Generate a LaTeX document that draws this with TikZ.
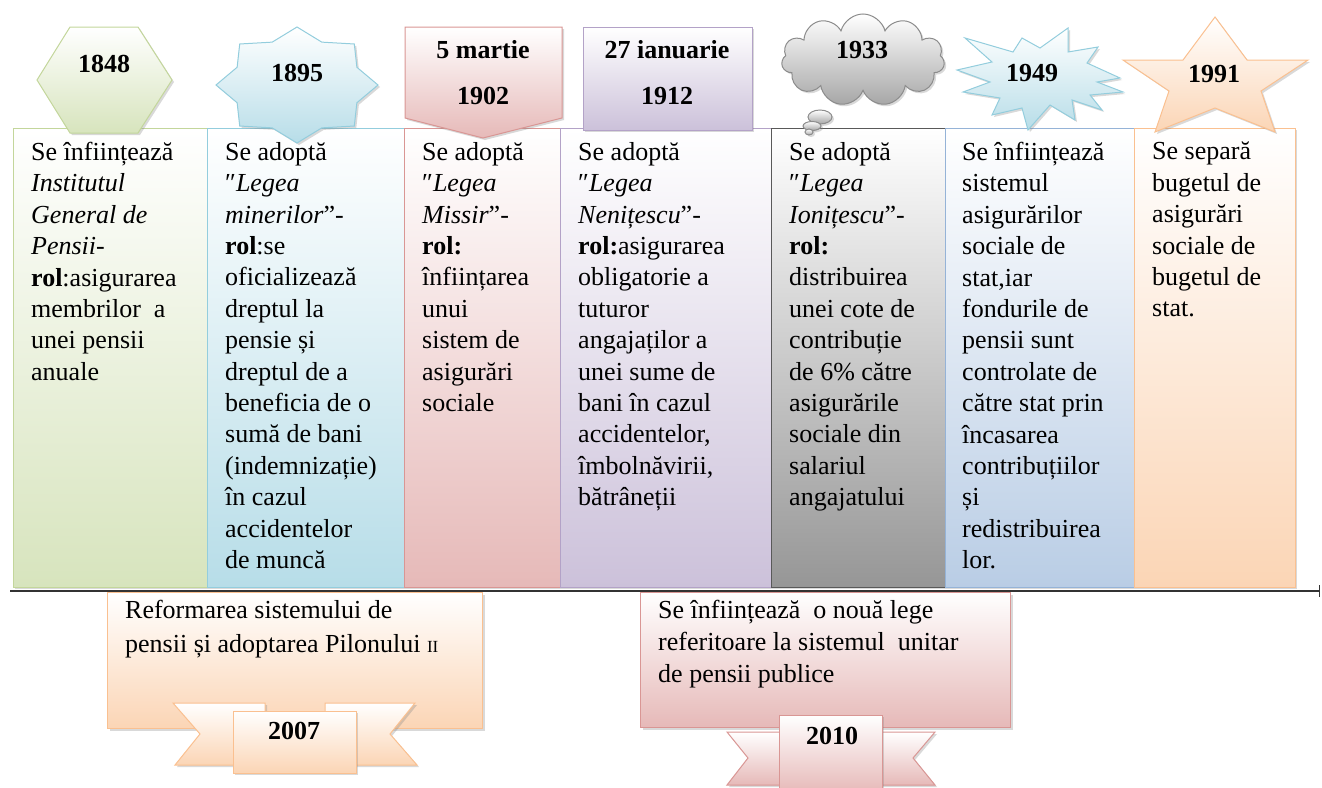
\documentclass[tikz,border=0pt]{standalone}
\usepackage{fontspec}
\setmainfont{Liberation Serif}
\usetikzlibrary{shapes.symbols,shadows,arrows.meta}

\definecolor{grnline}{HTML}{C3D69B}\definecolor{grnfill}{HTML}{D7E4BD}
\definecolor{aqualine}{HTML}{93CDDD}\definecolor{aquafill}{HTML}{B7DDE8}
\definecolor{redline}{HTML}{D99694}\definecolor{redfill}{HTML}{E6B9B8}
\definecolor{purline}{HTML}{B3A2C7}\definecolor{purfill}{HTML}{CCC1DA}
\definecolor{grayline}{HTML}{595959}\definecolor{grayfill}{HTML}{969696}
\definecolor{cldline}{HTML}{8C8C8C}\definecolor{cldfill}{HTML}{A6A6A6}
\definecolor{bluline}{HTML}{95B3D7}\definecolor{blufill}{HTML}{B9CDE5}
\definecolor{orline}{HTML}{FAC090}\definecolor{orfill}{HTML}{FBD5B5}

\tikzset{
  colbox/.style={draw=#1line, line width=0.8pt, top color=white, bottom color=#1fill,
    minimum height=459pt, anchor=north west, inner sep=0pt},
  badge/.style={draw=#1line, line width=1pt, top color=white, bottom color=#1fill},
  soft/.style={drop shadow={shadow xshift=2pt, shadow yshift=-2pt, opacity=0.3}},
  coltext/.style={anchor=north west, align=left, inner sep=0pt, font=\fontsize{26}{31.4}\selectfont,
    execute at begin node=\rule{0pt}{20pt}},
  yeartext/.style={inner sep=0pt, font=\bfseries\fontsize{26}{30}\selectfont},
}

\begin{document}
\begin{tikzpicture}[x=1pt,y=-1pt]
    \useasboundingbox (0,0) rectangle (1322,787);
    \clip (0,0) rectangle (1322,787);

    \coordinate (axL) at (10,591);
    \coordinate (axR) at (1320,591);
    \draw[line width=1.2pt, black!80, -{Bar[width=12pt]}] (axL) -- (axR);

    \node[colbox=grn, soft, minimum width=194pt] (c1848) at (13,128) {};
    \node[colbox=aqua, soft, minimum width=197pt] (c1895) at (207,128) {};
    \node[colbox=red, soft, minimum width=156pt] (c1902) at (404,128) {};
    \node[colbox=pur, soft, minimum width=211pt] (c1912) at (560,128) {};
    \node[colbox=gray, soft, minimum width=174pt] (c1933) at (771,128) {};
    \node[colbox=blu, soft, minimum width=189pt] (c1949) at (945,128) {};
    \node[colbox=or, soft, minimum width=161pt] (c1991) at (1134,128) {};

    \node[coltext] (t1848) at ([shift={(18pt,-14pt)}]c1848.north west)
      {Se înființează\\ \textit{Institutul}\\ \textit{General de}\\ \textit{Pensii-}\\
       \textbf{rol}:asigurarea\\ membrilor\ \ a\\ unei pensii\\ anuale};
    \node[coltext] (t1895) at ([shift={(18pt,-14pt)}]c1895.north west)
      {Se adoptă\\ ″\textit{Legea}\\ \textit{minerilor}”-\\ \textbf{rol}:se\\ oficializează\\
       dreptul la\\ pensie și\\ dreptul de a\\ beneficia de o\\ sumă de bani\\
       (indemnizație)\\ în cazul\\ accidentelor\\ de muncă};
    \node[coltext] (t1902) at ([shift={(18pt,-14pt)}]c1902.north west)
      {Se adoptă\\ ″\textit{Legea}\\ \textit{Missir}”-\\ \textbf{rol:}\\ înființarea\\
       unui\\ sistem de\\ asigurări\\ sociale};
    \node[coltext] (t1912) at ([shift={(18pt,-14pt)}]c1912.north west)
      {Se adoptă\\ ″\textit{Legea}\\ \textit{Nenițescu}”-\\ \textbf{rol:}asigurarea\\
       obligatorie a\\ tuturor\\ angajaților a\\ unei sume de\\ bani în cazul\\
       accidentelor,\\ îmbolnăvirii,\\ bătrâneții};
    \node[coltext] (t1933) at ([shift={(18pt,-14pt)}]c1933.north west)
      {Se adoptă\\ ″\textit{Legea}\\ \textit{Ionițescu}”-\\ \textbf{rol:}\\ distribuirea\\
       unei cote de\\ contribuție\\ de 6\% către\\ asigurările\\ sociale din\\
       salariul\\ angajatului};
    \node[coltext] (t1949) at ([shift={(17pt,-14pt)}]c1949.north west)
      {Se înființează\\ sistemul\\ asigurărilor\\ sociale de\\ stat,iar\\ fondurile de\\
       pensii sunt\\ controlate de\\ către stat prin\\ încasarea\\ contribuțiilor\\ și\\
       redistribuirea\\ lor.};
    \node[coltext] (t1991) at ([shift={(18pt,-14pt)}]c1991.north west)
      {Se separă\\ bugetul de\\ asigurări\\ sociale de\\ bugetul de\\ stat.};

    \draw[badge=grn, soft] (37,80) -- (70,27) -- (138,27) -- (172,80) -- (138,133) -- (70,133) -- cycle;
    \draw[badge=aqua, soft] plot[samples at={0,...,15}, variable=\k]
      ({297+81*(1-0.2*mod(\k,2))*cos(\k*22.5)}, {85-58*(1-0.2*mod(\k,2))*sin(\k*22.5)}) -- cycle;
    \draw[badge=red, soft] (405,27) -- (562,27) -- (562,118) -- (483,138) -- (405,118) -- cycle;
    \draw[badge=pur, soft] (583,27) rectangle (752,130);
    \node[cloud, cloud puffs=11, aspect=1.8, inner sep=0pt, minimum width=163pt, minimum height=92pt,
      badge=cld, soft] (cl1933) at (863,60) {};
    \draw[badge=cld, soft] (820,117) ellipse (12 and 7);
    \draw[badge=cld, soft] (812,126) ellipse (9 and 4.5);
    \draw[badge=cld, soft] (809,132) ellipse (4 and 3);
    \draw[badge=aqua, soft] (965,38) -- (1013,52) -- (1022,38) -- (1040,48) -- (1068,28) -- (1068,52)
      -- (1098,47) -- (1087,63) -- (1120,78) -- (1097,82) -- (1123,92) -- (1090,95) -- (1102,110)
      -- (1072,100) -- (1075,120) -- (1050,105) -- (1028,130) -- (1022,108) -- (992,115)
      -- (1000,98) -- (963,92) -- (990,82) -- (957,70) -- (992,62) -- cycle;
    \draw[badge=or, soft] (1215,17) -- (1247,60) -- (1308,60) -- (1261,91) -- (1275,132)
      -- (1215,108) -- (1155,132) -- (1169,91) -- (1123,60) -- (1183,60) -- cycle;

    \node[yeartext] (y1848) at (104,64) {1848};
    \node[yeartext] (y1895) at (297,73) {1895};
    \node[yeartext] (m1902) at (483,50) {5 martie};
    \node[yeartext] (y1902) at (483,96) {1902};
    \node[yeartext] (m1912) at (667,50) {27 ianuarie};
    \node[yeartext] (y1912) at (667,96) {1912};
    \node[yeartext] (y1933) at (862,50) {1933};
    \node[yeartext] (y1949) at (1032,73) {1949};
    \node[yeartext] (y1991) at (1214,74) {1991};

    \node[badge=or, soft, minimum width=375pt, minimum height=136pt, anchor=north west] (b2007) at (107,592) {};
    \node[coltext, font=\fontsize{26}{34}\selectfont] (t2007) at ([shift={(18pt,-8pt)}]b2007.north west)
      {Reformarea sistemului de\\ pensii și adoptarea Pilonului {\fontsize{17}{20}\selectfont II}};
    \draw[badge=or, soft] (173,703) -- (265,703) -- (265,765) -- (175,765) -- (200,734) -- cycle;
    \draw[badge=or, soft] (415,703) -- (325,703) -- (325,765) -- (417,765) -- (390,734) -- cycle;
    \draw[badge=or, soft] (233,711) rectangle (356,773);
    \node[yeartext] (y2007) at (294,731) {2007};

    \node[badge=red, soft, minimum width=370pt, minimum height=135pt, anchor=north west] (b2010) at (640,592) {};
    \node[coltext, font=\fontsize{26}{32}\selectfont] (t2010) at ([shift={(18pt,-8pt)}]b2010.north west)
      {Se înființează\ \ o nouă lege\\ referitoare la sistemul\ \ unitar\\ de pensii publice};
    \draw[badge=red, soft] (727,732) -- (790,732) -- (790,785) -- (727,785) -- (748,758) -- cycle;
    \draw[badge=red, soft] (935,732) -- (870,732) -- (870,785) -- (935,785) -- (913,758) -- cycle;
    \draw[badge=red, soft] (779,715) rectangle (882,793);
    \node[yeartext] (y2010) at (832,736) {2010};
\end{tikzpicture}
\end{document}
